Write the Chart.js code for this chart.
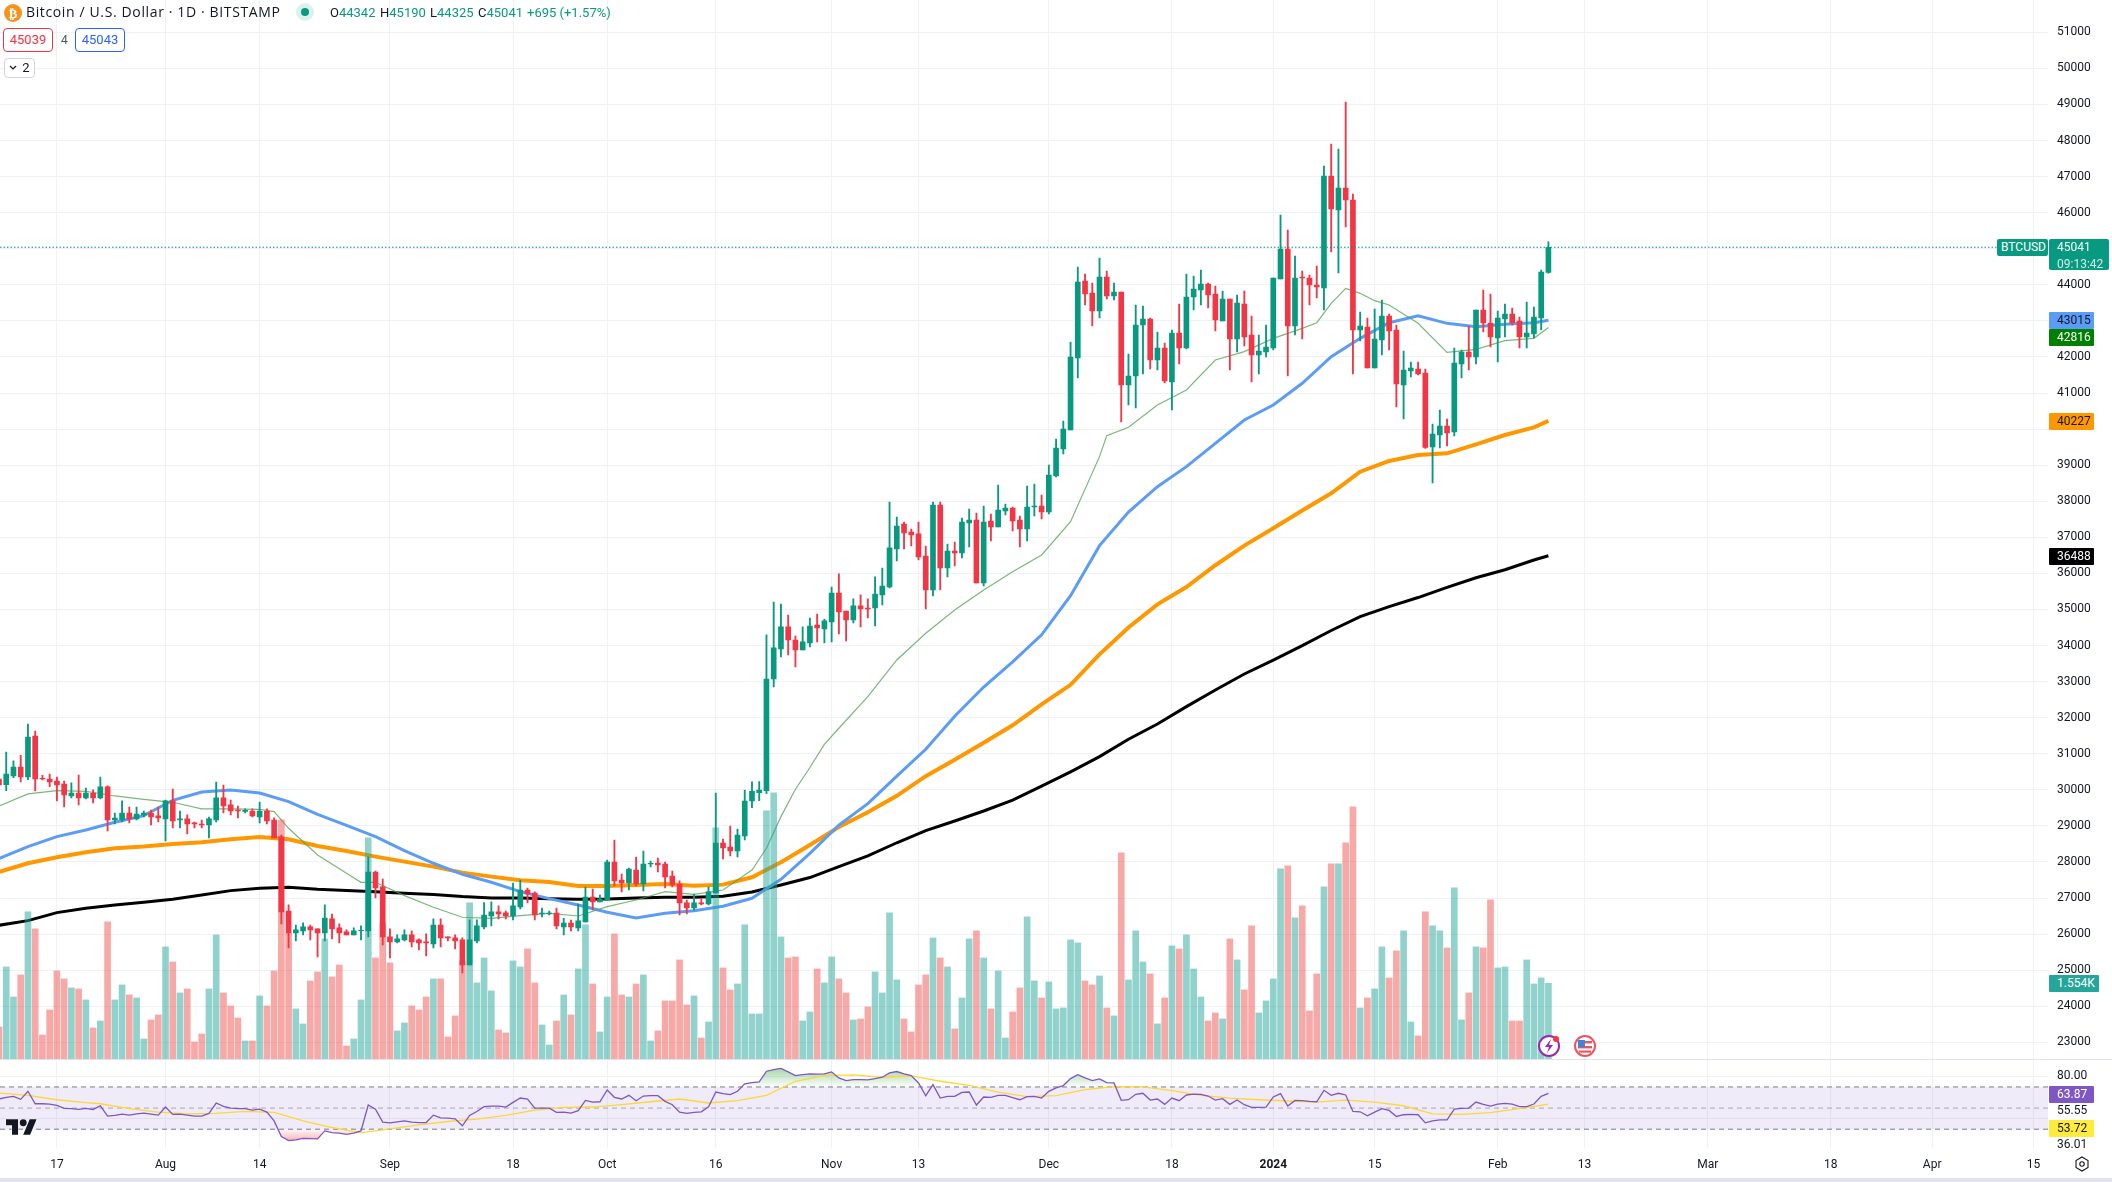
<!DOCTYPE html>
<html>
<head>
<meta charset="utf-8">
<title>Bitcoin / U.S. Dollar</title>
<script src="https://cdn.jsdelivr.net/npm/chart.js@4/dist/chart.umd.min.js"></script>
<style>
  html, body { margin: 0; padding: 0; background: #fff; overflow: hidden; }
  #wrap { position: relative; width: 2112px; height: 1182px; font-family: Roboto, sans-serif; color: #131722; }
  #chart { position: absolute; left: 0; top: 0; }
  .txt { position: absolute; white-space: nowrap; font-size: 14px; line-height: 16px; }
  .ohlc { top: 5px; font-size: 13px; }
  .box { position: absolute; box-sizing: border-box; border-radius: 4px; text-align: center; font-size: 13px; background: #fff; }
  .tag { position: absolute; box-sizing: border-box; left: 2049px; width: 45px; height: 17px; line-height: 17px; font-size: 12px; padding-left: 8px; border-radius: 1px; }
  svg { position: absolute; overflow: visible; }
  .up { color: #089981; }
</style>
</head>
<body>
<div id="wrap">
  <canvas id="chart" width="2112" height="1182"></canvas>

  <svg style="left:4px;top:4px" width="18" height="18" viewBox="0 0 18 18"><circle cx="9" cy="9" r="9" fill="#f7931a"/><text x="9" y="13.5" font-size="13" font-weight="700" text-anchor="middle" fill="#fff" font-family="DejaVu Sans">₿</text></svg>
  <div class="txt" style="left:26px;top:4px;font-family:'Open Sans';letter-spacing:.63px">Bitcoin / U.S. Dollar · 1D · BITSTAMP</div>
  <svg style="left:295px;top:2px" width="20" height="20"><circle cx="10" cy="10" r="9" fill="#daf1ed"/><circle cx="10" cy="10" r="4" fill="#089981"/></svg>
  <div class="txt ohlc" style="left:330px">O<span class="up">44342</span></div>
  <div class="txt ohlc" style="left:380px">H<span class="up">45190</span></div>
  <div class="txt ohlc" style="left:430px">L<span class="up">44325</span></div>
  <div class="txt ohlc" style="left:478px">C<span class="up">45041</span></div>
  <div class="txt ohlc up" style="left:527px">+695 (+1.57%)</div>

  <div class="box" style="left:3px;top:28px;width:50px;height:24px;line-height:22px;border:1px solid #f23645;color:#f23645">45039</div>
  <div class="txt" style="left:61px;top:32px;font-size:12px;color:#50535e">4</div>
  <div class="box" style="left:75px;top:28px;width:50px;height:24px;line-height:22px;border:1px solid #2962ff;color:#2962ff">45043</div>
  <div class="box" style="left:4px;top:58px;width:31px;height:20px;line-height:18px;border:1px solid #d1d4dc;font-size:13px">&nbsp;&nbsp;&nbsp;&nbsp;2</div>
  <svg style="left:9px;top:65px" width="8" height="6"><path d="M1 1l3 3 3-3" fill="none" stroke="#131722" stroke-width="1.2"/></svg>

  <!-- pane border and page edge -->
  <div style="position:absolute;left:0;top:1059px;width:2112px;height:1px;background:#e0e3eb"></div>
  <div style="position:absolute;left:0;top:1178px;width:2112px;height:4px;background:#e0e3eb"></div>

  <!-- price scale tags -->
  <div class="tag" style="left:1997px;top:239px;width:51px;color:#fff;background:#089981;padding-left:4px;border-radius:2px">BTCUSD</div>
  <div class="tag" style="top:239px;width:60px;height:31px;background:#089981;color:#fff;border-radius:2px">45041<br><span style="color:#cfeee8">09:13:42</span></div>
  <div class="tag" style="top:312px;background:#5b9cf6">43015</div>
  <div class="tag" style="top:329px;background:#008000;color:#fff">42816</div>
  <div class="tag" style="top:413px;background:#ff9800">40227</div>
  <div class="tag" style="top:548px;background:#000;color:#fff">36488</div>
  <div class="tag" style="top:975px;width:50px;background:#26a69a;color:#fff">1.554K</div>
  <div class="tag" style="top:1086px;background:#7e57c2;color:#fff">63.87</div>
  <div class="tag" style="top:1120px;background:#ffeb3b">53.72</div>

  <!-- event markers -->
  <svg style="left:1538px;top:1035px" width="22" height="22" viewBox="0 0 22 22"><circle cx="11" cy="11" r="10" fill="#fff" stroke="#9c27b0" stroke-width="2"/><path d="M13 4l-6 8h4l-2 6 6-8h-4z" fill="#9c27b0"/><circle cx="18" cy="4" r="3" fill="#f23645"/></svg>
  <svg style="left:1574px;top:1035px" width="22" height="22" viewBox="0 0 22 22"><circle cx="11" cy="11" r="10" fill="#fff" stroke="#f0535d" stroke-width="2"/><rect x="4" y="6" width="14" height="2.4" fill="#f0535d"/><rect x="4" y="11" width="14" height="2.4" fill="#f0535d"/><rect x="5" y="15.5" width="12" height="2.2" fill="#f0535d"/><rect x="4" y="5" width="7" height="7" fill="#3f86d8"/></svg>

  <!-- logo and settings -->
  <svg style="left:6px;top:1119px" width="31" height="16" viewBox="0 4 36 18"><g fill="#131722" stroke="#fff" stroke-width="1" paint-order="stroke"><path d="M14 22H7V11H0V4h14v18zM28 22h-8l7.5-18h8L28 22z"/><circle cx="20" cy="8" r="4"/></g></svg>
  <svg style="left:2074px;top:1156px" width="16" height="16" viewBox="0 0 16 16"><path d="M8 1l6 3.5v7L8 15l-6-3.5v-7z" fill="none" stroke="#131722" stroke-width="1.1"/><circle cx="8" cy="8" r="2.2" fill="none" stroke="#131722" stroke-width="1.1"/></svg>
</div>

<script>
// days are counted from 9 Jul 2023 = 0
const opens = [
  30300,30143,30384,30633,30356,31492,30319,30300,30245,30162,
  29829,29912,29774,29912,29774,30079,29164,29164,29358,29192,
  29303,29358,29275,29192,29691,29164,29192,29081,29053,29025,
  29164,29774,29580,29441,29404,29413,29247,29413,29164,28693,
  26641,26032,26087,26198,26143,26032,26420,26170,26059,25976,
  26096,26087,27722,27307,25921,25782,25838,25976,25838,25782,
  25727,26253,25921,25893,25838,25145,25810,26198,26503,26614,
  26586,26503,26752,27223,27140,26567,26567,26585,26197,26308,
  26170,26336,27029,26890,26946,27999,27500,27417,27777,27389,
  27944,27971,27944,27611,27389,26863,26724,26863,26835,27140,
  28526,28415,28304,28720,29690,29921,29979,33073,33905,34515,
  34154,33877,34071,34570,34459,34653,35457,34958,34709,35097,
  35041,35041,35401,35623,36677,37370,37148,37093,36482,35540,
  37896,36150,36621,36566,37397,37480,35734,37453,37287,37730,
  37813,37480,37231,37841,37869,37702,38700,39449,39975,41971,
  44106,43773,43274,44216,43690,43800,41223,41472,42886,43052,
  41916,42248,41306,42664,42248,43662,43856,44022,43745,42997,
  43607,42498,43468,42609,42054,42137,42248,44161,44993,42858,
  44216,44188,43995,43911,47016,46074,46683,46351,42747,42830,
  41694,42470,43135,42747,41223,41611,41666,41555,39504,39836,
  40086,39920,41805,42137,41999,43302,42941,42525,43052,43191,
  42997,42553,42636,43080,44342];
const closes = [
  30134,30439,30633,30356,31465,30300,30300,30217,30134,29857,
  29912,29774,29912,29774,30079,29164,29219,29358,29192,29330,
  29358,29247,29220,29691,29136,29192,29053,29053,29025,29192,
  29774,29552,29413,29413,29432,29275,29413,29136,28665,26614,
  26032,26115,26198,26115,26032,26447,26143,26032,25976,26087,
  26105,27722,27279,25921,25782,25865,25976,25782,25754,25754,
  26253,25893,25893,25810,25145,25838,26226,26530,26614,26558,
  26503,26780,27223,27112,26530,26585,26585,26225,26308,26197,
  26364,27029,26890,26973,27999,27472,27417,27805,27389,27944,
  27962,27916,27583,27362,26863,26724,26863,26835,27168,28526,
  28387,28304,28748,29690,29955,29995,33073,33933,34515,34154,
  33877,34099,34542,34487,34681,35457,34930,34709,35097,35014,
  35014,35429,35651,36705,37314,37120,37065,36455,35540,37896,
  36150,36621,36566,37425,37480,35734,37425,37287,37758,37813,
  37453,37231,37841,37869,37702,38728,39477,40003,41999,44078,
  43745,43274,44216,43690,43800,41223,41472,42886,43052,41916,
  42248,41333,42664,42248,43662,43884,44022,43717,43024,43607,
  42498,43496,42553,42054,42165,42276,44188,44993,42858,44188,
  44188,43995,43939,47016,46101,46683,46351,42747,42858,41694,
  42498,43135,42720,41250,41638,41694,41528,39495,39864,40086,
  39892,41832,42137,41999,43302,42941,42553,43080,43191,42941,
  42553,42664,43107,44355,45041];
const highs = [
  30439,31049,30800,30957,31825,31631,30402,30439,30356,30245,
  30190,30411,30051,29996,30356,30107,29358,29691,29524,29524,
  29413,29441,29524,29718,30023,29413,29303,29108,29164,29247,
  30217,30134,29718,29552,29469,29469,29663,29469,29220,28748,
  26808,26253,26309,26253,26143,26808,26558,26281,26115,26170,
  26226,28138,27750,27528,26143,25976,26115,26087,25865,26004,
  26420,26420,25921,25976,25893,26392,26392,26872,26891,26780,
  26641,27417,27500,27278,27168,26724,26641,26724,26438,26391,
  26835,27306,27251,27084,28055,28609,27666,27833,28138,28304,
  28027,28110,27999,27750,27473,26946,27112,26973,27306,29912,
  28637,28997,28914,29995,30220,30230,34296,35207,35152,34847,
  34265,34515,34764,34875,34736,35623,35984,34958,35291,35402,
  35291,35901,36150,37980,37564,37425,37231,37425,36760,37980,
  37980,36815,36871,37536,37786,37675,37869,37647,38451,37924,
  37841,37591,38423,38479,38174,39005,39726,40225,42415,44494,
  44300,44050,44743,44383,44050,43800,42082,43440,43412,43080,
  42692,42387,42747,43468,44300,44244,44410,44050,43967,43828,
  43607,43717,43828,43135,42609,42886,44188,45935,45519,44798,
  44383,44272,44521,47293,47903,47764,49067,46517,43246,43080,
  43329,43579,43191,42886,42165,41860,41860,41666,40141,40530,
  40280,42248,42193,42858,43302,43856,43745,43274,43468,43357,
  43107,43523,43385,44410,45190];
const lows = [
  30088,29977,30337,30217,30282,29968,30273,30088,29690,29524,
  29774,29580,29746,29635,29746,28859,29053,29108,29081,29164,
  29247,29025,29108,28582,28942,28942,28776,28942,28942,28665,
  29108,29358,29303,29220,29358,29247,29081,29053,28665,26281,
  25616,25810,25976,25838,25366,25810,25865,25754,25976,25976,
  25838,25921,27002,25699,25339,25754,25810,25643,25560,25394,
  25616,25643,25810,25588,24923,25145,25754,26143,26226,26420,
  26420,26392,26696,26863,26391,26475,26530,26142,25976,26086,
  26086,26336,26669,26890,26946,27334,27168,27223,27334,27195,
  27861,27722,27278,27306,26530,26558,26669,26807,26807,27140,
  28082,28165,28138,28609,29508,29700,29895,32851,33683,33738,
  33406,33877,33960,34099,34071,34099,34321,34126,34625,34515,
  34764,34542,35124,35595,36344,36677,36760,36372,35014,35374,
  35540,35901,36205,36427,36732,35734,35651,36898,37287,37619,
  37176,36732,36898,37591,37508,37647,38672,39310,39975,41417,
  43440,42858,43080,43607,43579,40197,40668,40585,41528,41666,
  41638,41278,40530,41805,42220,43302,43440,43357,42720,42997,
  41638,42137,42304,41306,41528,42000,42193,44161,41472,42609,
  42498,43440,43634,43302,44909,44327,45602,41528,42442,41694,
  41694,42054,42193,40612,40280,41444,41500,39467,38506,39476,
  39532,39809,41417,41638,41805,42692,42276,41860,42553,42886,
  42248,42248,42525,42747,44325];
const volumes = [
  661,1889,1275,1725,3014,2667,498,1009,1807,1644,
  1459,1439,1214,641,784,2810,1214,1521,1316,1255,
  416,805,907,2298,1991,1357,1439,355,518,1439,
  2544,1357,1091,846,375,375,1296,1091,1807,4897,
  2585,1030,723,1603,1787,2462,1685,1930,273,416,
  1214,4528,2073,2789,1971,580,743,1091,1009,1275,
  1644,1644,457,887,2012,3199,1562,2073,1398,600,
  539,2012,1889,2257,1562,702,293,784,1316,907,
  1848,2748,1541,559,1275,2564,1316,1275,1541,1725,
  375,580,1194,1194,2032,1112,1296,436,764,4733,
  1869,1419,1541,2748,928,928,5081,5449,2503,2073,
  2094,784,968,1848,1562,2094,1644,1357,805,825,
  1071,1787,1357,2994,1623,825,559,1521,1725,2482,
  2073,1889,621,1255,2462,2626,2073,1030,1807,436,
  968,1459,2912,1603,1255,1582,1030,1050,2442,2380,
  1603,1521,1705,1050,887,4222,1623,2626,1991,1746,
  723,1255,2319,2257,2544,1848,1275,784,948,825,
  2462,2032,1419,2728,948,1194,1644,3894,3956,2892,
  3137,989,1746,3526,3997,3997,4426,5163,1050,1255,
  1439,2298,1664,2217,2626,764,477,3014,2728,2626,
  2278,3505,805,1357,2298,2278,3260,1869,1889,784,
  784,2032,1541,1664,1554];

const maDays = [
  0,4,8,12,16,20,24,28,32,36,40,44,48,52,56,60,64,68,72,
  76,80,84,88,92,96,100,104,108,112,116,120,124,128,132,136,140,144,148,152,
  156,160,164,168,172,176,180,184,188,192,196,200,204,208,212,214];
const ma50 = [
  28092,28425,28702,28887,29099,29284,29709,29940,29996,29912,
  29672,29321,29016,28702,28314,27963,27658,27436,27177,
  26983,26807,26604,26447,26576,26650,26770,26992,27519,28239,
  29020,29617,30377,31124,32041,32849,33549,34296,35382,36769,
  37700,38404,38959,39606,40252,40668,41269,42008,42516,42950,
  43144,42932,42840,42904,42950,43015];
const ma100 = [
  27722,27963,28129,28268,28379,28425,28499,28545,28628,28693,
  28628,28443,28305,28148,28009,27870,27704,27593,27495,
  27445,27334,27334,27362,27389,27343,27371,27574,27990,28470,
  28970,29376,29834,30377,30835,31305,31788,32367,32910,33754,
  34501,35141,35623,36226,36769,37251,37745,38220,38820,39116,
  39282,39328,39578,39836,40049,40227];
const ma200 = [
  26244,26373,26595,26715,26808,26882,26965,27085,27205,27270,
  27298,27242,27205,27177,27131,27094,27039,27002,27000,
  26983,26964,26973,27001,27020,27020,27047,27168,27362,27567,
  27868,28170,28532,28870,29135,29412,29714,30100,30497,30920,
  31402,31824,32306,32765,33211,33597,33995,34417,34803,35080,
  35330,35610,35880,36100,36370,36488];
const ma20Days = [
  0,4,8,12,16,20,24,28,32,36,38,40,44,48,50,52,56,60,64,68,72,
  76,80,84,88,92,96,100,102,104,106,108,110,112,114,116,120,124,128,132,136,140,144,148,152,153,
  156,160,164,168,172,176,180,182,184,186,188,190,192,196,200,204,208,212,214];
const ma20 = [
  29552,29885,29977,29959,29829,29737,29654,29469,29469,29460,29395,28933,28194,27686,27436,27436,27067,26743,26466,26438,26512,
  26576,26502,26761,26946,27177,27103,27223,27500,27777,28378,29256,30015,30618,31257,31706,32583,33600,34339,34986,35540,36048,36510,37434,39236,39818,
  40049,40668,41084,41916,42147,42516,42793,42950,43486,43902,43764,43560,43440,42932,42128,42211,42452,42516,42816];

// RSI, one value per candle
const rsi = [
  58.6,60.2,61.1,58.3,65.9,54.1,54.1,53.8,52.5,49.7,
  49.4,48.7,49.7,48.7,52.2,42.4,43.0,44.3,43.3,44.6,
  45.2,44.3,43.3,51.0,44.0,44.3,43.3,42.4,42.4,44.9,
  54.8,51.6,50.0,49.4,49.4,48.1,49.0,46.2,37.9,23.0,
  19.2,19.8,21.4,21.1,20.8,28.4,26.8,26.2,25.2,26.2,
  28.4,52.9,49.0,36.7,36.0,37.0,37.9,36.7,36.3,36.3,
  43.3,40.8,40.5,39.8,33.2,43.0,46.8,51.3,51.9,51.9,
  51.0,55.4,59.5,58.6,50.0,50.0,50.0,45.9,46.2,45.2,
  47.5,57.3,55.7,56.0,67.1,60.2,58.6,62.1,57.0,61.4,
  61.7,61.7,56.4,53.2,46.2,44.9,45.9,46.5,51.3,65.2,
  63.7,62.7,65.9,72.9,74.1,74.8,84.9,86.5,87.5,84.3,
  80.8,81.7,82.4,82.1,82.4,84.3,78.6,76.0,77.0,77.0,
  76.7,77.9,79.2,83.3,84.6,82.4,80.8,73.8,61.7,72.2,
  59.5,61.1,61.1,64.9,65.2,52.9,60.5,60.2,62.1,62.1,
  59.8,57.9,60.8,61.1,59.5,65.9,69.1,71.3,77.9,81.7,
  78.6,76.0,77.6,74.1,73.8,57.3,57.9,63.0,64.0,57.6,
  58.6,53.5,59.5,57.0,62.4,63.3,63.0,61.4,57.6,58.9,
  53.5,57.6,53.2,50.6,50.6,51.0,60.5,63.7,51.9,57.3,
  57.0,56.4,56.0,66.8,62.1,64.0,62.4,46.8,46.5,42.7,
  46.2,49.4,47.8,42.1,43.7,44.0,43.7,36.0,37.9,38.9,
  38.9,49.0,49.7,50.0,55.7,53.5,51.9,53.8,54.4,53.8,
  51.3,51.3,53.8,61.1,63.87];
const rsiMaDays = [
  0,4,8,12,14,18,22,26,30,34,38,42,46,50,54,58,62,66,70,74,78,82,86,90,94,98,102,106,
  110,114,118,122,126,130,134,138,142,146,150,154,158,162,166,170,174,178,182,186,190,194,198,202,206,210,214];
const rsiMa = [
  64.3,62.1,57.9,55.1,54.1,49.4,46.2,44.6,44.9,46.8,45.9,37.9,31.6,26.5,30.3,34.1,37.3,39.5,43.0,48.1,50.6,51.0,53.2,56.0,58.6,54.8,57.0,62.1,
  75.4,80.8,81.4,79.2,80.5,75.4,71.6,65.2,60.8,61.7,67.5,70.3,70.0,66.5,62.1,59.5,57.9,56.7,55.7,57.6,55.7,52.2,44.6,44.0,45.6,49.4,53.72];

const lastPrice = 45041;
const rsiLevels = [70, 50, 30];

const priceTicks = [
  23000,24000,25000,26000,27000,28000,29000,30000,31000,32000,33000,34000,35000,36000,37000,
  38000,39000,40000,41000,42000,43000,44000,45000,46000,47000,48000,49000,50000,51000];
const hiddenPriceTicks = [45000, 43000, 40000]; // covered by the tags in the picture
const rsiTicks = [80, 46.8, 40, 15.2];
const rsiTickLabels = ['80.00', '55.55', '', '36.01'];
const timeTicks = [8, 23, 36, 54, 71, 84, 99, 115, 127, 145, 162, 176, 190, 207, 219, 236, 253, 267, 281];
const timeLabels = ['17','Aug','14','Sep','18','Oct','16','Nov','13','Dec','18','2024','15','Feb','13','Mar','18','Apr','15'];

const GREEN = '#089981', RED = '#f23645';
const GRID = '#f0f1f5';
const X_MIN = 0.14, X_MAX = 283;

const isUp = opens.map((o, i) => closes[i] >= o);
const candleColors = isUp.map(u => u ? GREEN : RED);
const volColors = isUp.map(u => u ? 'rgba(38,166,154,0.5)' : 'rgba(239,83,80,0.5)');
const pts = (days, vals) => days.map((d, i) => ({ x: d, y: vals[i] }));
const span = v => [{ x: X_MIN, y: v }, { x: X_MAX, y: v }];

const canvas = document.getElementById('chart');
const ctx = canvas.getContext('2d');
const overFill = ctx.createLinearGradient(0, 1066, 0, 1087);
overFill.addColorStop(0, 'rgba(76,175,80,0.55)');
overFill.addColorStop(1, 'rgba(76,175,80,0.02)');
const underFill = ctx.createLinearGradient(0, 1129, 0, 1143);
underFill.addColorStop(0, 'rgba(242,54,69,0.02)');
underFill.addColorStop(1, 'rgba(242,54,69,0.45)');

function lineSet(data, axis, color, width, order, extra) {
  return Object.assign({
    type: 'line', data: data, yAxisID: axis, borderColor: color, borderWidth: width,
    pointRadius: 0, tension: 0, fill: false, order: order
  }, extra || {});
}

// tick labels must not push the plot away from the page edges
function fitY(s) { s.width = 64; s.paddingTop = 0; s.paddingBottom = 0; }
function fitX(s) { s.height = 29; s.paddingLeft = 0; s.paddingRight = 0; }

new Chart(canvas, {
  data: {
    datasets: [
      // candles over volume over averages
      { type: 'bar', grouped: false, order: 1, yAxisID: 'y', barThickness: 5,
        data: opens.map((o, i) => ({ x: i, y: [o, closes[i]] })), backgroundColor: candleColors },
      { type: 'bar', grouped: false, order: 2, yAxisID: 'y', barThickness: 1.2,
        data: lows.map((l, i) => ({ x: i, y: [l, highs[i]] })), backgroundColor: candleColors },
      { type: 'bar', grouped: false, order: 3, yAxisID: 'yVol', barThickness: 6,
        data: volumes.map((v, i) => ({ x: i, y: v })), backgroundColor: volColors },
      lineSet(pts(maDays, ma200), 'y', '#000000', 3, 7),
      lineSet(pts(maDays, ma100), 'y', '#ff9800', 4, 6),
      lineSet(pts(maDays, ma50), 'y', '#5b9cf6', 3, 5),
      lineSet(pts(ma20Days, ma20), 'y', 'rgba(76,160,76,0.75)', 1.2, 4),
      lineSet(span(lastPrice), 'y', GREEN, 1.2, 0, { borderDash: [1.5, 2] }),
      // RSI pane
      lineSet(pts(rsi.map((v, i) => i), rsi), 'yRsi', '#7e57c2', 1.3, 9),
      lineSet(pts(rsiMaDays, rsiMa), 'yRsi', '#fdd835', 1.3, 10),
      lineSet(pts(rsi.map((v, i) => i), rsi), 'yRsi', 'transparent', 0, 11,
        { fill: { target: { value: rsiLevels[0] }, above: overFill, below: 'transparent' } }),
      lineSet(pts(rsi.map((v, i) => i), rsi), 'yRsi', 'transparent', 0, 12,
        { fill: { target: { value: rsiLevels[2] }, above: 'transparent', below: underFill } }),
      lineSet(span(rsiLevels[0]), 'yRsi', '#787b86', 1, 13,
        { borderDash: [5, 4], fill: { value: rsiLevels[2] }, backgroundColor: 'rgba(126,87,194,0.12)' }),
      lineSet(span(rsiLevels[1]), 'yRsi', 'rgba(120,123,134,0.6)', 1, 14, { borderDash: [5, 4] }),
      lineSet(span(rsiLevels[2]), 'yRsi', '#787b86', 1, 15, { borderDash: [5, 4] })
    ]
  },
  options: {
    responsive: false,
    animation: false,
    devicePixelRatio: 1,
    layout: { padding: { left: 0, right: 0, top: 0, bottom: 5 } },
    plugins: { legend: { display: false }, tooltip: { enabled: false } },
    scales: {
      x: {
        type: 'linear',
        min: X_MIN,
        max: X_MAX,
        offset: false,
        afterBuildTicks: s => { s.ticks = timeTicks.map(v => ({ value: v })); },
        afterFit: fitX,
        grid: { color: GRID, drawTicks: false, offset: false },
        border: { display: false },
        ticks: {
          autoSkip: false, maxRotation: 0, minRotation: 0, padding: 10, color: '#131722',
          font: c => ({ family: 'Roboto', size: 12, weight: c.tick && c.tick.value === 176 ? 'bold' : 'normal' }),
          callback: v => timeLabels[timeTicks.indexOf(v)]
        }
      },
      y: {
        type: 'linear',
        position: 'right',
        stack: 'panes',
        stackWeight: 1059.5,
        min: 22523,
        max: 51896,
        afterBuildTicks: s => { s.ticks = priceTicks.map(v => ({ value: v })); },
        afterFit: fitY,
        grid: { color: GRID, drawTicks: false },
        border: { display: false },
        ticks: {
          autoSkip: false, padding: 9, color: '#131722', font: { family: 'Roboto', size: 12 },
          callback: v => hiddenPriceTicks.includes(v) ? '' : String(v)
        }
      },
      yRsi: {
        type: 'linear',
        position: 'right',
        stack: 'panes',
        stackWeight: 88.5,
        min: 12.2,
        max: 96,
        afterBuildTicks: s => { s.ticks = rsiTicks.map(v => ({ value: v })); },
        afterFit: fitY,
        grid: { color: c => (c.tick && (c.tick.value === 80 || c.tick.value === 40)) ? GRID : 'transparent', drawTicks: false },
        border: { display: false },
        ticks: {
          autoSkip: false, padding: 9, color: '#131722', font: { family: 'Roboto', size: 12 },
          callback: v => rsiTickLabels[rsiTicks.indexOf(v)]
        }
      },
      yVol: {
        type: 'linear',
        display: false,
        position: 'right',
        min: -1814,
        max: 21663
      }
    }
  }
});
</script>
</body>
</html>
